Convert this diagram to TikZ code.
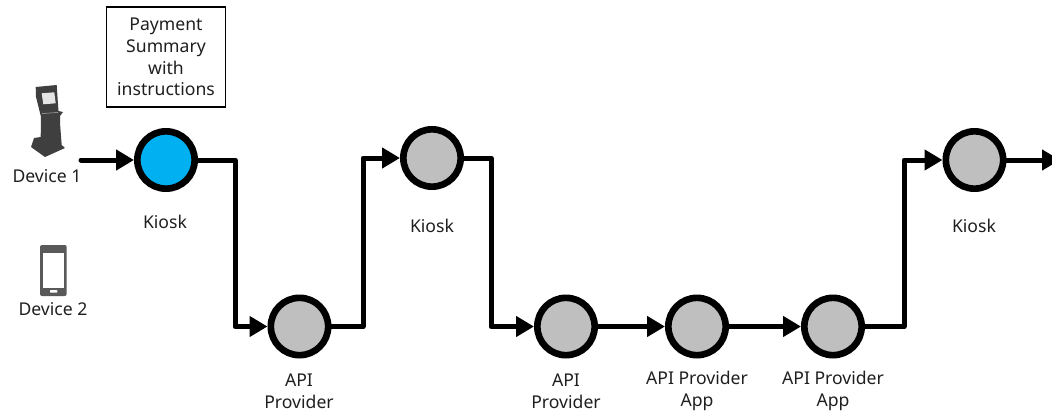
\documentclass[tikz,border=0pt]{standalone}
\usepackage{fontspec}
\setmainfont{Noto Sans}
\usetikzlibrary{arrows.meta}
\definecolor{kioskblue}{HTML}{00B0F0}
\definecolor{stepgray}{HTML}{BFBFBF}
\definecolor{icondark}{HTML}{3F3F3F}
\definecolor{phonegray}{HTML}{595959}
\tikzset{
  x=0.75pt,y=-0.75pt,
  stepnode/.style={circle,draw=black,line width=5pt,minimum size=43pt,inner sep=0pt,fill=stepgray},
  lbl/.style={align=center,font=\fontsize{13.2}{16.3}\selectfont,inner sep=0pt,text=black!88},
  conn/.style={line width=3.75pt,line join=round,line cap=round,-{Triangle[length=13.5pt,width=15pt]}}
}
\begin{document}
\begin{tikzpicture}
\useasboundingbox (0,0) rectangle (1052,414);
\clip (0,0) rectangle (1052,414);
\node[stepnode,fill=kioskblue] (k1) at (166,160) {};
\node[stepnode] (a1) at (299.5,326.5) {};
\node[stepnode] (k2) at (432,158) {};
\node[stepnode] (a2) at (566,326.5) {};
\node[stepnode] (a3) at (697,326.5) {};
\node[stepnode] (a4) at (833,326.5) {};
\node[stepnode] (k3) at (974.5,160) {};
\coordinate (s) at (81,160);
\coordinate (e) at (1060,160);
\coordinate (c1) at (235,160);
\coordinate (c2) at (363,158);
\coordinate (c3) at (491,158);
\coordinate (c4) at (904,160);
\draw[conn] (s) -- (k1);
\draw[conn] (k1) -- (c1) -- (c1|-a1) -- (a1);
\draw[conn] (a1) -- (c2|-a1) -- (c2) -- (k2);
\draw[conn] (k2) -- (c3) -- (c3|-a2) -- (a2);
\draw[conn] (a2) -- (a3);
\draw[conn] (a3) -- (a4);
\draw[conn] (a4) -- (c4|-a4) -- (c4) -- (k3);
\draw[conn] (k3) -- (e);
\node[draw=black,line width=0.8pt,minimum width=89.25pt,minimum height=75pt,lbl] (box) at (166,57) {Payment\\Summary\\with\\instructions};
\node[lbl] (d1) at (47,176) {Device 1};
\node[lbl] (d2) at (53,309) {Device 2};
\node[lbl] (l1) at (165,222) {Kiosk};
\node[lbl] (l2) at (432,226) {Kiosk};
\node[lbl] (l3) at (974,226) {Kiosk};
\node[lbl] (l4) at (299,391) {API\\Provider};
\node[lbl] (l5) at (566,391) {API\\Provider};
\node[lbl] (l6) at (697,391) {API Provider\\App};
\node[lbl] (l7) at (833,391) {API Provider\\App};
% kiosk icon
\fill[icondark] (35.7,87) -- (56.7,85) -- (57.7,100) -- (58.5,111) -- (63,112) -- (60,116) -- (60,123) -- (61.7,145) -- (65,148) -- (45,157) -- (31,147) -- (34,138) -- (40.7,137) -- (41,117) -- (36,97) -- cycle;
\fill[white!90!black] (41.7,93.3) -- (54.3,92.3) -- (55.7,103.3) -- (43.3,104.3) -- cycle;
\draw[white!70!black,line width=0.4pt] (42,113.5) -- (58,112.5);
% phone icon
\fill[phonegray,rounded corners=1.5pt] (40,245) rectangle (66.7,296);
\fill[white] (42.7,252.7) rectangle (64.3,288);
\fill[white,rounded corners=0.5pt] (50,290) rectangle (57.3,292.7);
\end{tikzpicture}
\end{document}
